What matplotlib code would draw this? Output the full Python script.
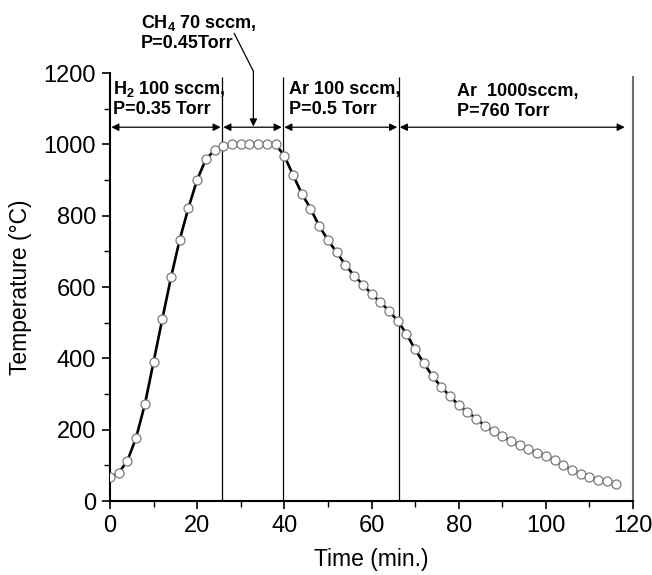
import matplotlib
matplotlib.use('Agg')
import matplotlib.pyplot as plt

plt.rcParams['font.family'] = ['Liberation Sans', 'DejaVu Sans']
plt.rcParams['mathtext.fontset'] = 'custom'
plt.rcParams['mathtext.bf'] = 'Liberation Sans:bold'
plt.rcParams['mathtext.rm'] = 'Liberation Sans:bold'
plt.rcParams['mathtext.default'] = 'bf'

time_min = [0, 2, 4, 6, 8, 10, 12, 14, 16, 18, 20, 22, 24, 26, 28, 30, 32, 34, 36, 38,
            40, 42, 44, 46, 48, 50, 52, 54, 56, 58, 60, 62, 64, 66, 68, 70, 72, 74, 76, 78,
            80, 82, 84, 86, 88, 90, 92, 94, 96, 98, 100, 102, 104, 106, 108, 110, 112, 114, 116]
temp_c = [66, 79, 113, 178, 271, 390, 510, 627, 733, 822, 901, 958, 984, 996, 1000, 1000, 1000, 1000, 1000, 1000,
          968, 914, 862, 820, 771, 732, 697, 662, 632, 607, 581, 557, 534, 505, 469, 425, 387, 350, 320, 294,
          269, 250, 231, 211, 196, 182, 168, 156, 145, 135, 126, 115, 100, 87, 77, 67, 60, 55, 48]

# stage boundaries (min) and labels
boundaries = [25.7, 39.7, 66.2]
stage_spans = [(0, 25.7), (25.7, 39.7), (39.7, 66.2), (66.2, 118.4)]
stage_line1 = ['H$_2$ 100 sccm,', 'Ar 100 sccm,', 'Ar  1000sccm,']
stage_line2 = ['P=0.35 Torr', 'P=0.5 Torr', 'P=760 Torr']
stage_label_x = [0.8, 41.0, 79.7]
stage_label_y = [(1141, 1085), (1141, 1085), (1136, 1080)]
ch4_line1 = 'CH$_4$ 70 sccm,'
ch4_line2 = 'P=0.45Torr'


def main():
    fig = plt.figure(figsize=(6.52, 5.75), dpi=100)
    ax = fig.add_axes([110 / 652, 74 / 575, 523 / 652, 428 / 575])

    ax.plot(time_min, temp_c, '-', color='black', lw=1.9, zorder=3)
    ax.plot(time_min, temp_c, 'o', ms=6.5, mfc='white', mec='#7a7a7a', mew=0.9, zorder=4)

    # stage boundaries
    ax.vlines(boundaries, 0, 1190, colors='black', lw=0.9, zorder=2)

    # double arrows for each stage
    for x0, x1 in stage_spans:
        ax.annotate('', xy=(x1 - 0.3, 1048), xytext=(x0 + 0.3, 1048),
                    arrowprops=dict(arrowstyle='<|-|>', color='black', lw=0.9,
                                    mutation_scale=11, shrinkA=0, shrinkB=0))

    for x, l1, l2, (y1, y2) in zip(stage_label_x, stage_line1, stage_line2, stage_label_y):
        ax.text(x, y1, l1, fontsize=13, fontweight='bold', va='baseline', ha='left')
        ax.text(x, y2, l2, fontsize=13, fontweight='bold', va='baseline', ha='left')

    # CH4 label above the axes with bent arrow
    ax.text(7.1, 1326, ch4_line1, fontsize=13, fontweight='bold', va='baseline',
            ha='left', clip_on=False)
    ax.text(7.1, 1270, ch4_line2, fontsize=13, fontweight='bold', va='baseline',
            ha='left', clip_on=False)
    ax.plot([28.5, 32.9], [1311, 1205], color='black', lw=0.9, clip_on=False)
    ax.annotate('', xy=(32.9, 1050), xytext=(32.9, 1205),
                arrowprops=dict(arrowstyle='-|>', color='black', lw=0.9,
                                mutation_scale=11, shrinkA=0, shrinkB=0),
                annotation_clip=False)

    ax.set_xlim(0, 120)
    ax.set_ylim(0, 1200)
    ax.set_xticks([0, 20, 40, 60, 80, 100, 120])
    ax.set_xticks([10, 30, 50, 70, 90, 110], minor=True)
    ax.set_yticks([0, 200, 400, 600, 800, 1000, 1200])
    ax.set_yticks([100, 300, 500, 700, 900, 1100], minor=True)
    ax.tick_params(which='major', direction='out', length=6, width=1.2, labelsize=17, pad=4)
    ax.tick_params(which='minor', direction='out', length=4, width=1.0)

    ax.spines['top'].set_visible(False)
    ax.spines['left'].set_linewidth(1.5)
    ax.spines['bottom'].set_linewidth(1.5)
    ax.spines['right'].set_color('#707070')
    ax.spines['right'].set_linewidth(1.5)
    ax.spines['right'].set_bounds(0, 1190)

    ax.set_xlabel('Time (min.)', fontsize=16.5, labelpad=8)
    ax.set_ylabel('Temperature (\u00b0C)', fontsize=16.5, labelpad=8)

    fig.savefig('out.png', dpi=100, facecolor='white')


if __name__ == '__main__':
    main()
